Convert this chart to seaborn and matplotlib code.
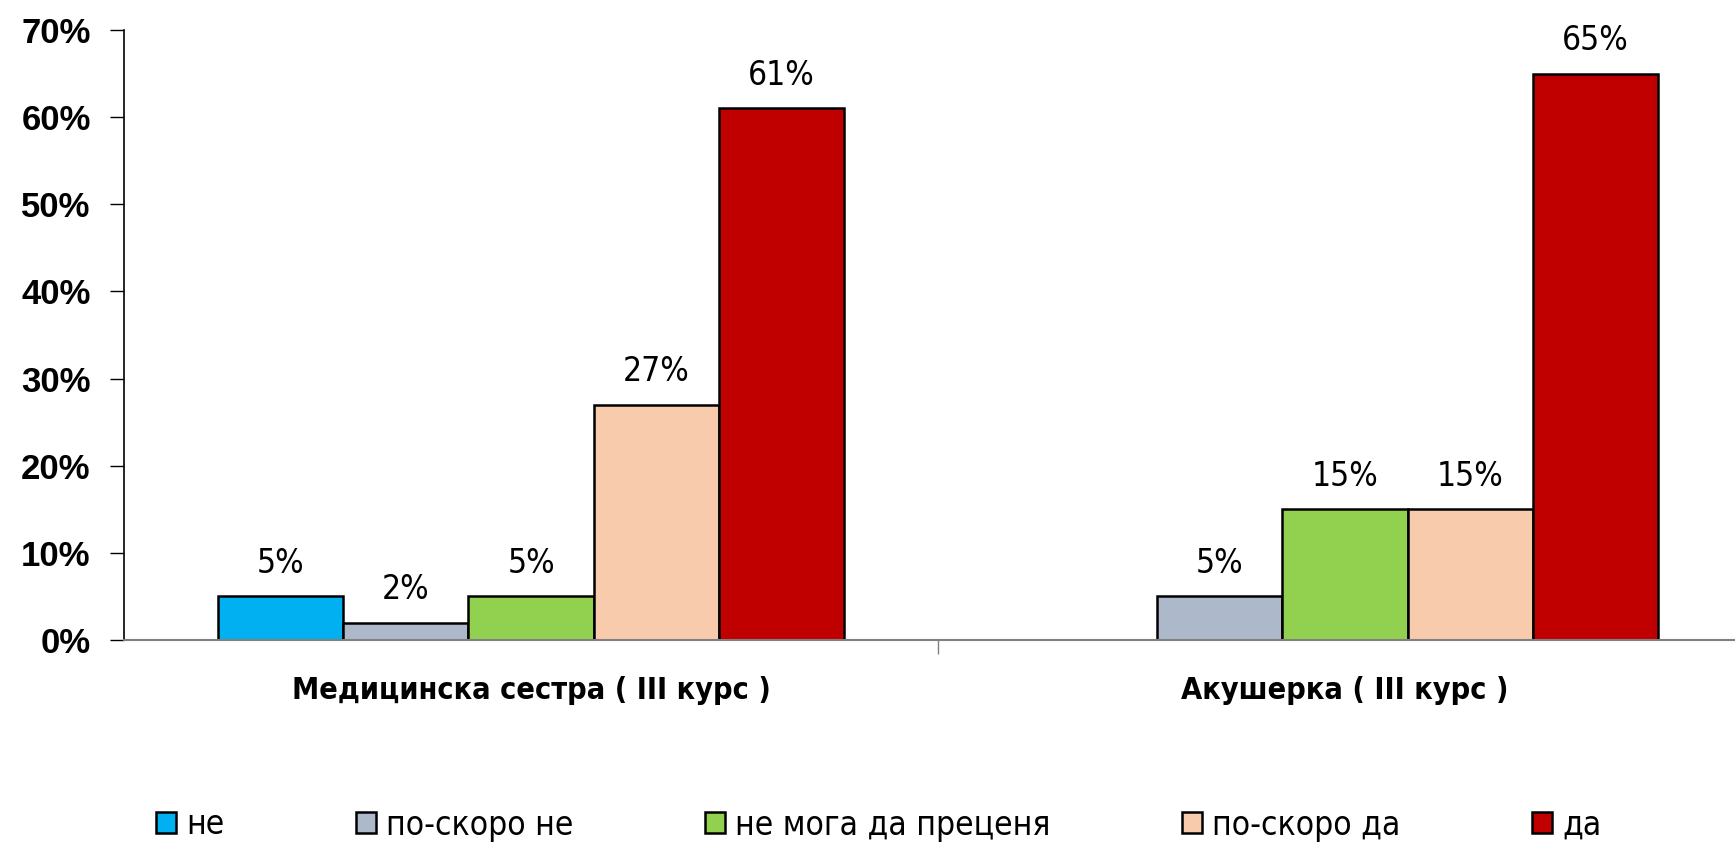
import numpy as np
import pandas as pd
import seaborn as sns
import matplotlib
matplotlib.use("Agg")
import matplotlib.pyplot as plt
from matplotlib import font_manager as fm
from matplotlib.ticker import FuncFormatter, FixedLocator

categories = ["Медицинска сестра ( III курс )", "Акушерка ( III курс )"]
answers = ["не", "по-скоро не", "не мога да преценя", "по-скоро да", "да"]
nurse_values = [5, 2, 5, 27, 61]
midwife_values = [0, 5, 15, 15, 65]
colors = ["#00B0F0", "#ADB9CA", "#92D050", "#F8CBAD", "#C00000"]
y_ticks = [0, 10, 20, 30, 40, 50, 60, 70]

sns.set_theme(style="white")
plt.rcParams["font.family"] = ["Liberation Sans", "DejaVu Sans"]
plt.rcParams["text.color"] = "black"
plt.rcParams["xtick.color"] = "black"
plt.rcParams["ytick.color"] = "black"

cond_prop = fm.FontProperties(family="DejaVu Sans", stretch="condensed", size=24)
cond_bold = fm.FontProperties(family="DejaVu Sans", stretch="condensed", weight="bold", size=22)

rows = []
for cat, vals in zip(categories, [nurse_values, midwife_values]):
    for a, v in zip(answers, vals):
        if v > 0:
            rows.append({"cat": cat, "answer": a, "value": v})
df = pd.DataFrame(rows)

fig = plt.figure(figsize=(17.35, 8.42), dpi=100)
ax = fig.add_axes([124 / 1735, 202 / 842, 1628 / 1735, 610 / 842])

sns.barplot(data=df, x="cat", y="value", hue="answer", order=categories,
            hue_order=answers, palette=colors, width=0.768, dodge=True,
            saturation=1, edgecolor="black", linewidth=1.8, ax=ax, legend=True)

for cont in ax.containers:
    ax.bar_label(cont, labels=[f"{v:.0f}%" for v in cont.datavalues],
                 padding=12, fontproperties=cond_prop, color="black")

ax.set_ylim(0, 70)
ax.set_xlim(-0.5, 1.5)
ax.yaxis.set_major_locator(FixedLocator(y_ticks))
ax.yaxis.set_major_formatter(FuncFormatter(lambda v, p: f"{v:.0f}%"))
for lab in ax.get_yticklabels():
    lab.set_fontweight("bold")
    lab.set_fontsize(25)
ax.tick_params(axis="y", which="major", left=True, length=10, width=1,
               color="black", pad=14)
ax.set_xticks([0, 1])
ax.set_xticklabels(categories)
for lab in ax.get_xticklabels():
    lab.set_fontproperties(cond_bold)
ax.tick_params(axis="x", which="major", bottom=False, pad=20)
ax.set_xticks([0.5], minor=True)
ax.tick_params(axis="x", which="minor", bottom=True, length=10, width=1,
               color="#808080", direction="out")
ax.set_xlabel("")
ax.set_ylabel("")
for s in ["top", "right"]:
    ax.spines[s].set_visible(False)
ax.spines["left"].set_color("black")
ax.spines["left"].set_linewidth(1.2)
ax.spines["bottom"].set_color("#808080")
ax.spines["bottom"].set_linewidth(1.5)

handles, labels = ax.get_legend_handles_labels()
ax.legend_.remove()
leg = fig.legend(handles, labels, loc="center left", bbox_to_anchor=(143 / 1735, 1 - 825 / 842),
                 ncol=5, frameon=False,
                 prop=fm.FontProperties(family="DejaVu Sans", stretch="condensed", size=24),
                 handlelength=0.6, handleheight=0.6, handletextpad=0.3,
                 columnspacing=3.95, borderaxespad=0)

fig.savefig("out.png", dpi=100)
